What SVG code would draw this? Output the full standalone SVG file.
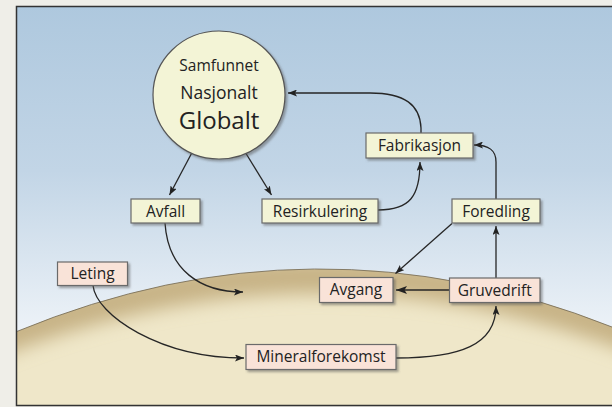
<svg xmlns="http://www.w3.org/2000/svg" width="612" height="407" viewBox="0 0 612 407">
<defs>
<style>
.box{stroke:#6a6a6a;stroke-width:1.2;filter:url(#sh)}
.y{fill:#f3f4d6}
.p{fill:#f9e3d8}
.t{font-family:"Open Sans","Noto Sans",sans-serif;font-size:15.5px;fill:#222;text-anchor:middle}
.c{fill:none;stroke:#262626;stroke-width:1.3}
</style>
<linearGradient id="sky" x1="0" y1="6" x2="0" y2="335" gradientUnits="userSpaceOnUse">
<stop offset="0" stop-color="#aec8de"/>
<stop offset="0.5" stop-color="#c2d5e6"/>
<stop offset="1" stop-color="#eef3f8"/>
</linearGradient>
<clipPath id="gclip">
<path d="M17,331.4 Q314.5,208.8 612,327 L612,405.5 L17,405.5 Z"/>
</clipPath>
<filter id="bl" x="-10%" y="-50%" width="120%" height="200%">
<feGaussianBlur stdDeviation="9"/>
</filter>
<filter id="sh" x="-20%" y="-20%" width="140%" height="160%">
<feDropShadow dx="2" dy="2" stdDeviation="1" flood-color="#555" flood-opacity="0.5"/>
</filter>
<marker id="a" markerWidth="9" markerHeight="7" refX="9" refY="3.5" orient="auto" markerUnits="userSpaceOnUse">
<path d="M0,0 L9,3.5 L0,7 L2,3.5 Z" fill="#222"/>
</marker>
<marker id="a2" markerWidth="11" markerHeight="8" refX="11" refY="4" orient="auto" markerUnits="userSpaceOnUse">
<path d="M0,0 L11,4 L0,8 L2.5,4 Z" fill="#222"/>
</marker>
</defs>
<rect x="0" y="0" width="612" height="407" fill="#efeee8"/>
<rect x="16.5" y="6.5" width="600" height="399" fill="url(#sky)"/>
<g clip-path="url(#gclip)">
<rect x="16" y="200" width="600" height="210" fill="#efe7c9"/>
<path d="M-20,346 Q314.5,208.8 650,342" fill="none" stroke="#c7b386" stroke-width="34" filter="url(#bl)"/>
</g>
<path d="M17,331.4 Q314.5,208.8 612,327" fill="none" stroke="#6e6550" stroke-width="0.8"/>
<rect x="16.5" y="6.5" width="600" height="399" fill="none" stroke="#333" stroke-width="1.5"/>

<g id="connectors">
<path class="c" d="M191.5,153.5 L169.5,195" marker-end="url(#a)"/>
<path class="c" d="M246,153.5 L271.5,195" marker-end="url(#a)"/>
<path class="c" d="M421,133 L421,128 C420,105 405,93 370,93 L288,93" marker-end="url(#a)"/>
<path class="c" d="M378,210 C410,210 420,196 420,162" marker-end="url(#a)"/>
<path class="c" d="M496,199 L496,162 C496,150 489,145 474,145" marker-end="url(#a)"/>
<path class="c" d="M496,278 L496,226" marker-end="url(#a)"/>
<path class="c" d="M452,223.5 L395.5,273.5" marker-end="url(#a)"/>
<path class="c" d="M165,223 C168,270 200,292 243,292" marker-end="url(#a)"/>
<path class="c" d="M449.5,290 L396,290" stroke-width="2" marker-end="url(#a2)"/>
<path class="c" d="M93,285.5 C96,315 160,358 244,358" marker-end="url(#a)"/>
<path class="c" d="M396,358 C460,358 496,345 496,306" marker-end="url(#a)"/>
</g>

<g id="society">
<ellipse cx="219" cy="95" rx="66" ry="64" fill="#f3f4d6" stroke="#555" stroke-width="1.2" filter="url(#sh)"/>
<text class="t" x="219" y="71">Samfunnet</text>
<text class="t" x="219" y="98.5" style="font-size:17.5px">Nasjonalt</text>
<text class="t" x="219" y="128.5" style="font-size:24px">Globalt</text>
</g>
<g id="fabrikasjon">
<rect class="box y" x="366" y="133" width="107" height="25"/>
<text class="t" x="419.5" y="150.5">Fabrikasjon</text>
</g>
<g id="avfall">
<rect class="box y" x="131" y="199" width="69" height="24"/>
<text class="t" x="165.5" y="216.5">Avfall</text>
</g>
<g id="resirkulering">
<rect class="box y" x="262" y="199" width="116" height="24"/>
<text class="t" x="320" y="216.5">Resirkulering</text>
</g>
<g id="foredling">
<rect class="box y" x="452" y="199" width="88" height="24"/>
<text class="t" x="496" y="216.5">Foredling</text>
</g>
<g id="leting">
<rect class="box p" x="57.5" y="262" width="70" height="23.5"/>
<text class="t" x="92.5" y="278.5">Leting</text>
</g>
<g id="avgang">
<rect class="box p" x="319.5" y="277.5" width="73.5" height="25"/>
<text class="t" x="356" y="295">Avgang</text>
</g>
<g id="gruvedrift">
<rect class="box p" x="449.5" y="278" width="90.5" height="24.5"/>
<text class="t" x="494.7" y="295.5">Gruvedrift</text>
</g>
<g id="mineralforekomst">
<rect class="box p" x="246" y="344.5" width="150" height="25"/>
<text class="t" x="321" y="362">Mineralforekomst</text>
</g>
</svg>
